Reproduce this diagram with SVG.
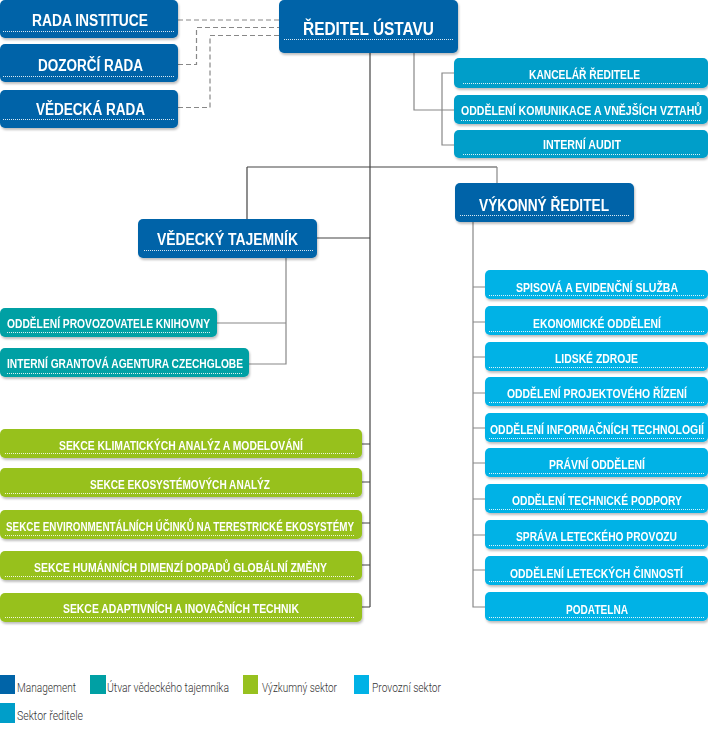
<svg xmlns="http://www.w3.org/2000/svg" width="708" height="737" viewBox="0 0 708 737">
<style>
.mg{fill:#0064a8}
.ut{fill:#00a0a4}
.vy{fill:#97c11f}
.pr{fill:#00b2e6}
.sr{fill:#009ec9}
.box{filter:url(#sh)}
.t{font-family:"Liberation Sans",Arial,sans-serif;font-weight:bold;fill:#fff;text-anchor:middle}
.tl{text-anchor:start}
.s12{font-size:12.5px}
.s16{font-size:16px}
.s18{font-size:18px}
.ul{stroke:#fff;stroke-width:1;stroke-dasharray:1 1;opacity:0.85;fill:none}
.cd{stroke:#444;stroke-width:1.2;fill:none}
.cg{stroke:#888;stroke-width:1.2;fill:none}
.cx{stroke:#888;stroke-width:1.2;stroke-dasharray:5 3;fill:none}
.lg{font-family:Roboto,"Liberation Sans",Arial,sans-serif;font-weight:300;font-size:13.5px;fill:#333}
</style>
<defs>
<filter id="sh" x="-5%" y="-20%" width="110%" height="150%">
<feDropShadow dx="1" dy="2" stdDeviation="1.3" flood-color="#000" flood-opacity="0.25"/>
</filter>
</defs>
<rect width="708" height="737" fill="#fff"/>

<g id="connectors">
<path class="cx" d="M178 20H279"/>
<path class="cx" d="M178 64.5H196.5V27.5H279"/>
<path class="cx" d="M178 107.5H210V35.5H279"/>
<path class="cd" d="M370 53V607"/>
<path class="cd" d="M247 167H497"/>
<path class="cd" d="M247 167V219"/>
<path class="cg" d="M497 167V183"/>
<path class="cd" d="M317 238H370"/>
<path class="cd" d="M362 444H370M362 482H370M362 523H370M362 565H370M362 607H370"/>
<path class="cg" d="M414 53V110H454"/>
<path class="cg" d="M454 73H442V145H454"/>
<path class="cg" d="M286 258V364H249M286 323H217"/>
<path class="cg" d="M473 222V607H485M473 287H485M473 322H485M473 357H485M473 393H485M473 428H485M473 463H485M473 499H485M473 535H485M473 570H485"/>
</g>

<g id="rada-instituce" class="box"><rect class="mg" x="0" y="0" width="178" height="38" rx="5"/><text class="t s16" x="90" y="26" textLength="116" lengthAdjust="spacingAndGlyphs">RADA INSTITUCE</text><path class="ul" d="M3 31.5H175"/></g>
<g id="dozorci-rada" class="box"><rect class="mg" x="0" y="44" width="178" height="38" rx="5"/><text class="t s16" x="90.5" y="71" textLength="105" lengthAdjust="spacingAndGlyphs">DOZORČÍ RADA</text><path class="ul" d="M3 76.5H175"/></g>
<g id="vedecka-rada" class="box"><rect class="mg" x="0" y="90" width="178" height="38" rx="5"/><text class="t s16" x="90.5" y="114.5" textLength="109" lengthAdjust="spacingAndGlyphs">VĚDECKÁ RADA</text><path class="ul" d="M3 119.5H175"/></g>
<g id="reditel-ustavu" class="box"><rect class="mg" x="279" y="0" width="179" height="53" rx="5"/><text class="t s18" x="368.5" y="35" textLength="131" lengthAdjust="spacingAndGlyphs">ŘEDITEL ÚSTAVU</text><path class="ul" d="M284 39.5H453"/></g>

<g id="kancelar-reditele" class="box"><rect class="sr" x="454" y="58" width="254" height="30" rx="5"/><text class="t s12" x="584.5" y="79" textLength="111" lengthAdjust="spacingAndGlyphs">KANCELÁŘ ŘEDITELE</text><path class="ul" d="M463 83.5H701"/></g>
<g id="oddeleni-komunikace" class="box"><rect class="sr" x="454" y="95" width="254" height="29" rx="5"/><text class="t s12" x="581.5" y="115" textLength="241" lengthAdjust="spacingAndGlyphs">ODDĚLENÍ KOMUNIKACE A VNĚJŠÍCH VZTAHŮ</text><path class="ul" d="M461 120.5H701"/></g>
<g id="interni-audit" class="box"><rect class="sr" x="454" y="130" width="254" height="28" rx="5"/><text class="t s12" x="582" y="149" textLength="78" lengthAdjust="spacingAndGlyphs">INTERNÍ AUDIT</text><path class="ul" d="M463 154.5H701"/></g>

<g id="vedecky-tajemnik" class="box"><rect class="mg" x="138" y="219" width="179" height="39" rx="5"/><text class="t s16" x="227.5" y="245" textLength="141" lengthAdjust="spacingAndGlyphs">VĚDECKÝ TAJEMNÍK</text><path class="ul" d="M144 250.5H313"/></g>
<g id="vykonny-reditel" class="box"><rect class="mg" x="455" y="183" width="179" height="39" rx="5"/><text class="t s16" x="544" y="211" textLength="130" lengthAdjust="spacingAndGlyphs">VÝKONNÝ ŘEDITEL</text><path class="ul" d="M460 215.5H629"/></g>

<g id="oddeleni-provozovatele-knihovny" class="box"><rect class="ut" x="0" y="308" width="217" height="29" rx="5"/><text class="t tl s12" x="7" y="328" textLength="203" lengthAdjust="spacingAndGlyphs">ODDĚLENÍ PROVOZOVATELE KNIHOVNY</text><path class="ul" d="M7 332.5H211"/></g>
<g id="interni-grantova-agentura" class="box"><rect class="ut" x="0" y="348" width="249" height="29" rx="5"/><text class="t tl s12" x="7" y="368" textLength="236" lengthAdjust="spacingAndGlyphs">INTERNÍ GRANTOVÁ AGENTURA CZECHGLOBE</text><path class="ul" d="M7 373.5H243"/></g>

<g id="sekce-klimatickych" class="box"><rect class="vy" x="0" y="429" width="362" height="29" rx="5"/><text class="t s12" x="181" y="450" textLength="244" lengthAdjust="spacingAndGlyphs">SEKCE KLIMATICKÝCH ANALÝZ A MODELOVÁNÍ</text><path class="ul" d="M5 453.5H355"/></g>
<g id="sekce-ekosystemovych" class="box"><rect class="vy" x="0" y="468" width="362" height="29" rx="5"/><text class="t s12" x="180" y="489" textLength="180" lengthAdjust="spacingAndGlyphs">SEKCE EKOSYSTÉMOVÝCH ANALÝZ</text><path class="ul" d="M5 493.5H355"/></g>
<g id="sekce-environmentalnich" class="box"><rect class="vy" x="0" y="510" width="362" height="29" rx="5"/><text class="t s12" x="180" y="531" textLength="348" lengthAdjust="spacingAndGlyphs">SEKCE ENVIRONMENTÁLNÍCH ÚČINKŮ NA TERESTRICKÉ EKOSYSTÉMY</text><path class="ul" d="M5 535.5H355"/></g>
<g id="sekce-humannich" class="box"><rect class="vy" x="0" y="551" width="362" height="29" rx="5"/><text class="t s12" x="180.5" y="572" textLength="293" lengthAdjust="spacingAndGlyphs">SEKCE HUMÁNNÍCH DIMENZÍ DOPADŮ GLOBÁLNÍ ZMĚNY</text><path class="ul" d="M5 576.5H355"/></g>
<g id="sekce-adaptivnich" class="box"><rect class="vy" x="0" y="593" width="362" height="29" rx="5"/><text class="t s12" x="181" y="613" textLength="236" lengthAdjust="spacingAndGlyphs">SEKCE ADAPTIVNÍCH A INOVAČNÍCH TECHNIK</text><path class="ul" d="M5 617.5H355"/></g>

<g id="spisova-sluzba" class="box"><rect class="pr" x="485" y="270" width="223" height="29" rx="5"/><text class="t s12" x="597" y="291.5" textLength="162" lengthAdjust="spacingAndGlyphs">SPISOVÁ A EVIDENČNÍ SLUŽBA</text><path class="ul" d="M489 295.5H705"/></g>
<g id="ekonomicke-oddeleni" class="box"><rect class="pr" x="485" y="306" width="223" height="29" rx="5"/><text class="t s12" x="597" y="327.5" textLength="128" lengthAdjust="spacingAndGlyphs">EKONOMICKÉ ODDĚLENÍ</text><path class="ul" d="M489 331.5H705"/></g>
<g id="lidske-zdroje" class="box"><rect class="pr" x="485" y="342" width="223" height="29" rx="5"/><text class="t s12" x="596.5" y="363" textLength="83" lengthAdjust="spacingAndGlyphs">LIDSKÉ ZDROJE</text><path class="ul" d="M489 367.5H705"/></g>
<g id="projektove-rizeni" class="box"><rect class="pr" x="485" y="377" width="223" height="29" rx="5"/><text class="t s12" x="597" y="398" textLength="180" lengthAdjust="spacingAndGlyphs">ODDĚLENÍ PROJEKTOVÉHO ŘÍZENÍ</text><path class="ul" d="M489 402.5H705"/></g>
<g id="informacni-technologie" class="box"><rect class="pr" x="485" y="413" width="223" height="29" rx="5"/><text class="t s12" x="597" y="434" textLength="214" lengthAdjust="spacingAndGlyphs">ODDĚLENÍ INFORMAČNÍCH TECHNOLOGIÍ</text><path class="ul" d="M489 438.5H705"/></g>
<g id="pravni-oddeleni" class="box"><rect class="pr" x="485" y="448" width="223" height="29" rx="5"/><text class="t s12" x="597" y="469" textLength="96" lengthAdjust="spacingAndGlyphs">PRÁVNÍ ODDĚLENÍ</text><path class="ul" d="M489 473.5H705"/></g>
<g id="technicka-podpora" class="box"><rect class="pr" x="485" y="484" width="223" height="29" rx="5"/><text class="t s12" x="597" y="505" textLength="170" lengthAdjust="spacingAndGlyphs">ODDĚLENÍ TECHNICKÉ PODPORY</text><path class="ul" d="M489 509.5H705"/></g>
<g id="sprava-leteckeho-provozu" class="box"><rect class="pr" x="485" y="520" width="223" height="29" rx="5"/><text class="t s12" x="596.5" y="541" textLength="161" lengthAdjust="spacingAndGlyphs">SPRÁVA LETECKÉHO PROVOZU</text><path class="ul" d="M489 545.5H705"/></g>
<g id="leteckych-cinnosti" class="box"><rect class="pr" x="485" y="556" width="223" height="29" rx="5"/><text class="t s12" x="596.5" y="577.5" textLength="173" lengthAdjust="spacingAndGlyphs">ODDĚLENÍ LETECKÝCH ČINNOSTÍ</text><path class="ul" d="M489 581.5H705"/></g>
<g id="podatelna" class="box"><rect class="pr" x="485" y="592" width="223" height="29" rx="5"/><text class="t s12" x="597" y="613.5" textLength="62" lengthAdjust="spacingAndGlyphs">PODATELNA</text><path class="ul" d="M489 617.5H705"/></g>

<g id="legend">
<rect class="mg" x="0" y="675" width="15" height="19"/>
<text class="lg" x="17" y="692" textLength="59" lengthAdjust="spacingAndGlyphs">Management</text>
<rect class="ut" x="90" y="675" width="16" height="19"/>
<text class="lg" x="107" y="692" textLength="122" lengthAdjust="spacingAndGlyphs">Útvar vědeckého tajemníka</text>
<rect class="vy" x="243" y="675" width="15" height="19"/>
<text class="lg" x="262" y="692" textLength="75" lengthAdjust="spacingAndGlyphs">Výzkumný sektor</text>
<rect class="pr" x="354" y="675" width="15" height="19"/>
<text class="lg" x="372" y="692" textLength="69" lengthAdjust="spacingAndGlyphs">Provozní sektor</text>
<rect class="sr" x="0" y="703" width="15" height="20"/>
<text class="lg" x="17" y="720" textLength="66" lengthAdjust="spacingAndGlyphs">Sektor ředitele</text>
</g>
</svg>
